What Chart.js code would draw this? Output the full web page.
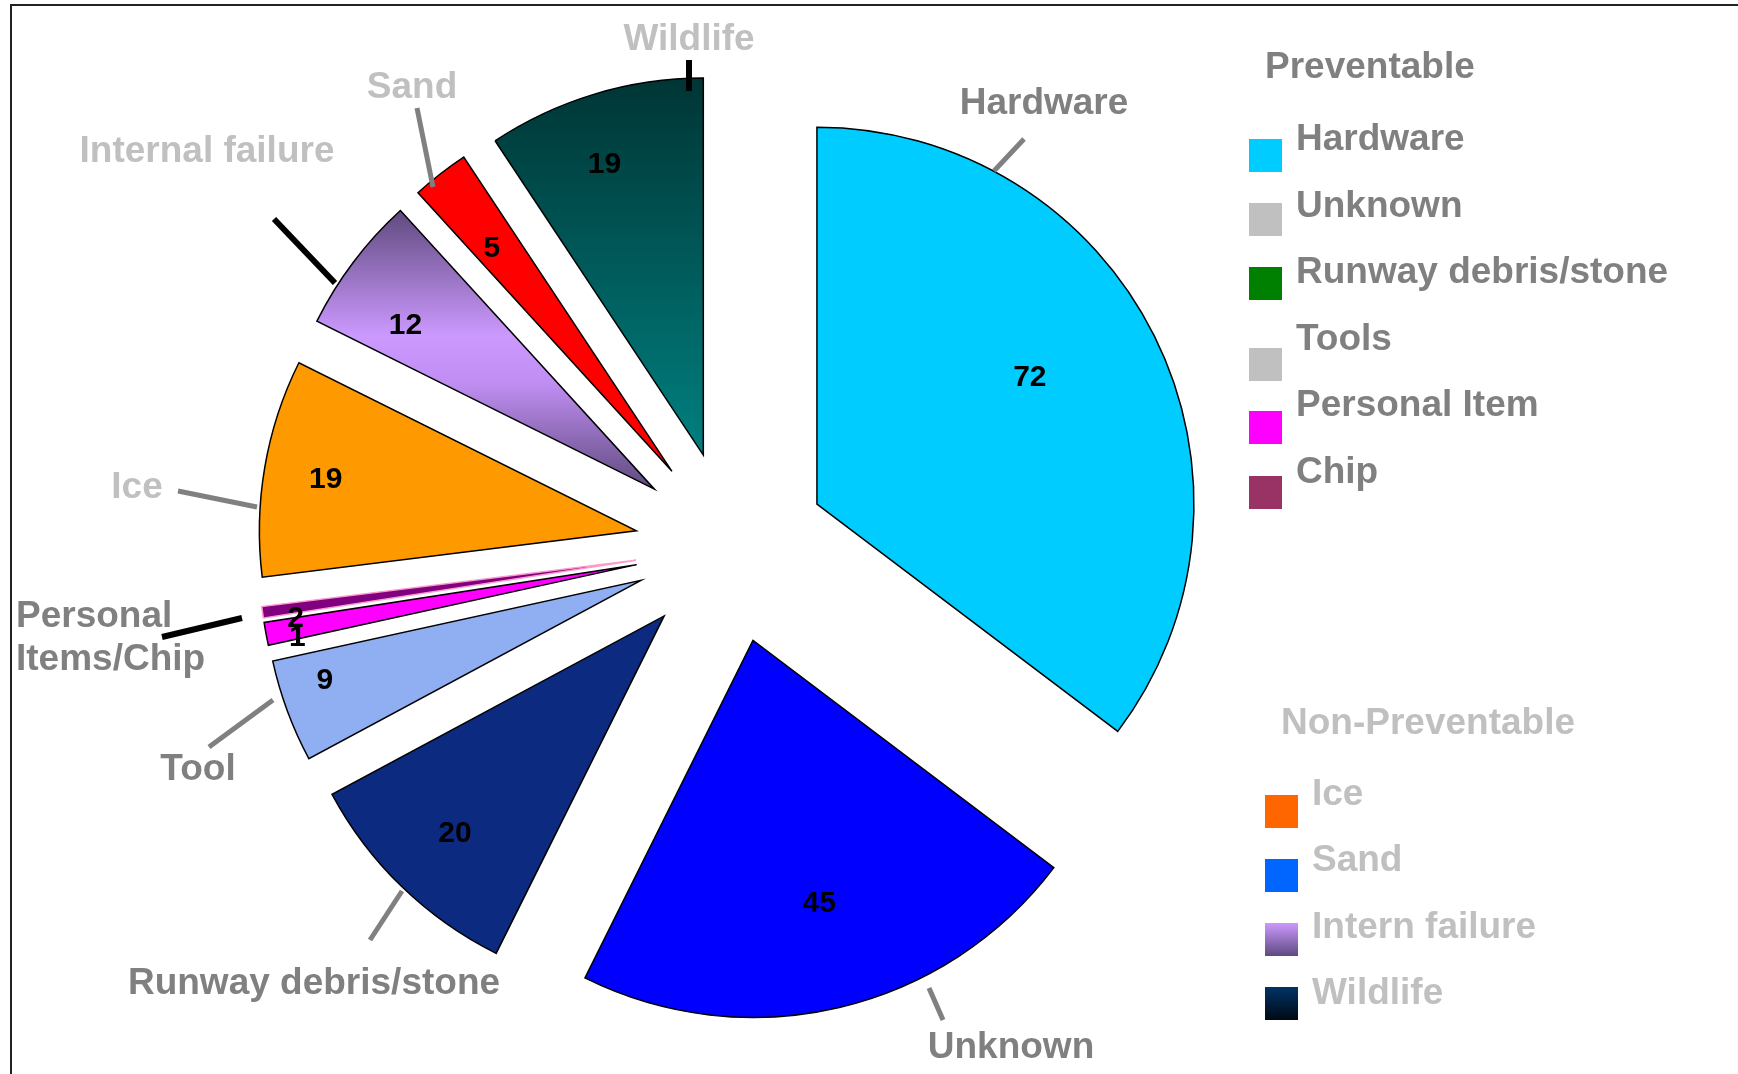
<!DOCTYPE html>
<html>
<head>
<meta charset="utf-8">
<title>Causes</title>
<script src="https://cdn.jsdelivr.net/npm/chart.js@4.4.1/dist/chart.umd.min.js"></script>
<style>
  html, body { margin: 0; padding: 0; background: #fff; }
  canvas { display: block; }
</style>
</head>
<body>
<canvas id="causeChart" width="1738" height="1074"></canvas>
<script>
// slices, clockwise from 12 o'clock
const causes = ['Hardware', 'Unknown', 'Runway debris/stone', 'Tool', 'Personal Items', 'Chip', 'Ice', 'Internal failure', 'Sand', 'Wildlife'];
const counts = [72, 45, 20, 9, 2, 1, 19, 12, 5, 19];

const sliceColors = ['#00CCFF', '#0000FF', '#0C2A80', '#90AEF2', '#FF00FF', '#800080', '#FF9900', '#C090F0', '#FF0000', '#006060'];
const sliceBorders = ['#000', '#000', '#000', '#000', '#000', '#FF99CC', '#000', '#000', '#000', '#000'];
// vertical gradients (top -> bottom of the slice)
const sliceGradients = {
    7: [[0, '#5F4A7E'], [0.45, '#CC99FF'], [0.62, '#C08EF2'], [1, '#5F4A7E']],
    9: [[0, '#003535'], [1, '#008080']]
};

// outside labels with leader lines, offsets from the pie centre
const callouts = [
    { text: ['Hardware'], color: '#808080', x: 313, y: -446, line: [263, -376, 293, -408], lineColor: '#808080' },
    { text: ['Unknown'], color: '#808080', x: 280, y: 498, line: [198, 441, 212, 473], lineColor: '#808080' },
    { text: ['Runway debris/stone'], color: '#808080', x: -417, y: 434, line: [-361, 393, -329, 344], lineColor: '#808080' },
    { text: ['Tool'], color: '#808080', x: -533, y: 220, line: [-522, 200, -458, 153], lineColor: '#808080' },
    { text: ['Personal', 'Items/Chip'], color: '#808080', x: -715, y: 67, align: 'left', line: [-569, 90, -489, 71], lineColor: '#000' },
    { text: ['Ice'], color: '#C0C0C0', x: -594, y: -62, line: [-553, -56, -474, -40], lineColor: '#808080' },
    { text: ['Internal failure'], color: '#C0C0C0', x: -524, y: -398, line: [-457, -328, -396, -264], lineColor: '#000' },
    { text: ['Sand'], color: '#C0C0C0', x: -319, y: -462, line: [-314, -439, -298, -360], lineColor: '#808080' },
    { text: ['Wildlife'], color: '#C0C0C0', x: -42, y: -510, line: [-42, -487, -42, -456], lineColor: '#000' }
];

// value label placement: fraction of radius from the slice tip, and turn in degrees
const labelFrac = [0.66, 0.714, 0.797, 0.878, 0.915, 0.92, 0.836, 0.793, 0.764, 0.82];
const labelTurn = [-4.7, -1, 0, 3.1, 1.9, -4.6, 0, -3.4, -0.8, -1.9];

const preventableLabels = ['Hardware', 'Unknown', 'Runway debris/stone', 'Tools', 'Personal Item', 'Chip'];
const preventableColors = ['#00CCFF', '#C0C0C0', '#008000', '#C0C0C0', '#FF00FF', '#993366'];
const preventableSwatchTop = [139, 203, 267, 348, 411, 476];
const nonPreventableLabels = ['Ice', 'Sand', 'Intern failure', 'Wildlife'];
const nonPreventableColors = ['#FF6600', '#0066FF', ['#CC99FF', '#5E4A80'], ['#003366', '#000A14']];
const nonPreventableSwatchTop = [795, 859, 923, 987];

const EXPLODE = 96;
const RADIUS = 377;
const FONT = "'Liberation Sans', Arial, sans-serif";

const explodePlugin = {
    id: 'explode',
    beforeDatasetDraw(chart, args) {
        const ctx = chart.ctx;
        args.meta.data.forEach((arc, i) => {
            const mid = (arc.startAngle + arc.endAngle) / 2;
            ctx.save();
            ctx.translate(Math.cos(mid) * EXPLODE, Math.sin(mid) * EXPLODE);
            const stops = sliceGradients[i];
            if (stops) {
                const R = arc.outerRadius;
                const top = arc.y + R * Math.min(Math.sin(arc.startAngle), Math.sin(arc.endAngle));
                const bottom = Math.max(arc.y, arc.y + R * Math.sin(arc.startAngle), arc.y + R * Math.sin(arc.endAngle));
                const g = ctx.createLinearGradient(0, top, 0, bottom);
                stops.forEach(s => g.addColorStop(s[0], s[1]));
                const saved = arc.options;
                arc.options = Object.assign({}, saved, { backgroundColor: g });
                arc.draw(ctx);
                arc.options = saved;
            } else {
                arc.draw(ctx);
            }
            ctx.restore();
        });
        return false;
    }
};

const annotatePlugin = {
    id: 'annotate',
    afterDraw(chart) {
        const ctx = chart.ctx;
        const arcs = chart.getDatasetMeta(0).data;
        const cx = arcs[0].x, cy = arcs[0].y;

        // frame
        ctx.save();
        ctx.strokeStyle = '#222';
        ctx.lineWidth = 2;
        ctx.beginPath();
        ctx.moveTo(chart.width, 5);
        ctx.lineTo(11, 5);
        ctx.lineTo(11, chart.height);
        ctx.stroke();

        // value labels
        ctx.fillStyle = '#000';
        ctx.font = 'bold 30px ' + FONT;
        ctx.textAlign = 'center';
        ctx.textBaseline = 'alphabetic';
        arcs.forEach((arc, i) => {
            const mid = (arc.startAngle + arc.endAngle) / 2;
            const a = mid + labelTurn[i] * Math.PI / 180;
            const r = labelFrac[i] * arc.outerRadius;
            const x = arc.x + Math.cos(mid) * EXPLODE + Math.cos(a) * r;
            const y = arc.y + Math.sin(mid) * EXPLODE + Math.sin(a) * r;
            ctx.fillText(String(counts[i]), x, y + 10.7);
        });

        // callouts
        ctx.font = 'bold 37px ' + FONT;
        ctx.lineCap = 'butt';
        callouts.forEach(c => {
            ctx.strokeStyle = c.lineColor;
            ctx.lineWidth = c.lineColor === '#000' ? 6 : 5;
            ctx.beginPath();
            ctx.moveTo(cx + c.line[0], cy + c.line[1]);
            ctx.lineTo(cx + c.line[2], cy + c.line[3]);
            ctx.stroke();
            ctx.fillStyle = c.color;
            ctx.textAlign = c.align || 'center';
            c.text.forEach((t, k) => {
                ctx.fillText(t, cx + c.x, cy + c.y + k * 43 + 13);
            });
        });

        // legend
        ctx.textAlign = 'left';
        ctx.fillStyle = '#808080';
        ctx.fillText('Preventable', 1265, 78);
        preventableLabels.forEach((t, i) => {
            ctx.fillStyle = preventableColors[i];
            ctx.fillRect(1249, preventableSwatchTop[i], 33, 33);
            ctx.fillStyle = '#808080';
            ctx.fillText(t, 1296, 137 + i * 66.6 + 13);
        });
        ctx.fillStyle = '#C0C0C0';
        ctx.fillText('Non-Preventable', 1281, 734);
        nonPreventableLabels.forEach((t, i) => {
            const col = nonPreventableColors[i];
            const top = nonPreventableSwatchTop[i];
            if (Array.isArray(col)) {
                const g = ctx.createLinearGradient(0, top, 0, top + 33);
                g.addColorStop(0, col[0]);
                g.addColorStop(1, col[1]);
                ctx.fillStyle = g;
            } else {
                ctx.fillStyle = col;
            }
            ctx.fillRect(1265, top, 33, 33);
            ctx.fillStyle = '#C0C0C0';
            ctx.fillText(t, 1312, 792 + i * 66.4 + 13);
        });
        ctx.restore();
    }
};

new Chart(document.getElementById('causeChart').getContext('2d'), {
    type: 'pie',
    data: {
        labels: causes,
        datasets: [{
            data: counts,
            backgroundColor: sliceColors,
            borderColor: sliceBorders,
            borderWidth: 1.5,
            borderJoinStyle: 'miter'
        }]
    },
    options: {
        responsive: false,
        animation: false,
        events: [],
        radius: RADIUS,
        layout: { padding: { left: 0, right: 276, top: 20, bottom: 0 } },
        plugins: {
            legend: { display: false },
            tooltip: { enabled: false }
        }
    },
    plugins: [explodePlugin, annotatePlugin]
});
</script>
</body>
</html>
